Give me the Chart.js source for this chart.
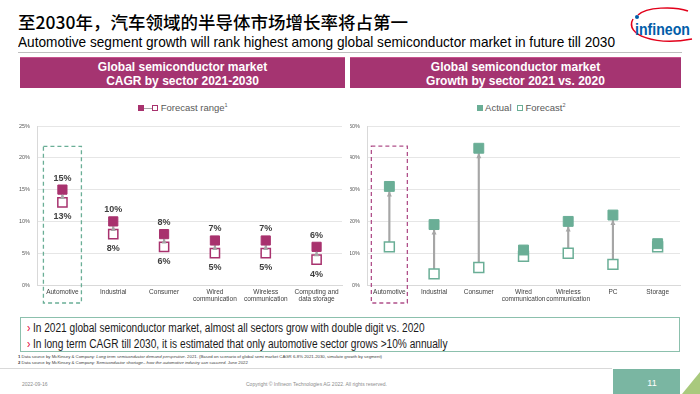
<!DOCTYPE html>
<html lang="zh">
<head>
<meta charset="UTF-8">
<title>Semiconductor growth by sector</title>
<script src="https://cdn.jsdelivr.net/npm/chart.js@4.4.0/dist/chart.umd.min.js"></script>
<style>
  body { margin: 0; width: 700px; height: 394px; overflow: hidden; background: #fff; position: relative; font-family: "Liberation Sans", Arial, sans-serif; }
  .abs { position: absolute; }
  #title { left: 18px; top: 12px; font-family: "Noto Sans CJK SC", sans-serif; font-size: 17.5px; font-weight: 500; color: #000; line-height: 20px; }
  #subtitle { left: 18px; top: 34px; font-size: 14.5px; color: #000; line-height: 16px; white-space: nowrap; transform: scaleX(0.94); transform-origin: 0 0; }
  #greyline { left: 18px; top: 52px; width: 664px; height: 1px; background: #bfbfbf; }
  .hdr { top: 57px; height: 31px; background: #a53471; color: #fff; font-weight: bold; font-size: 12px; line-height: 14px; text-align: center; padding-top: 2px; box-sizing: border-box; border-top: 1px solid #c8558e; }
  .legend { top: 102px; font-size: 9.5px; color: #595959; white-space: nowrap; }
  .sq { display: inline-block; width: 6px; height: 6px; box-sizing: border-box; }
  .legend sup { font-size: 5.5px; }
  canvas { position: absolute; }
  #box { left: 20px; top: 317px; width: 660px; height: 35px; border: 1px solid #8cc0ad; box-sizing: border-box; font-size: 12px; color: #1a1a1a; padding: 2px 0 0 6px; line-height: 16px; }
  #box div { white-space: nowrap; transform: scaleX(0.845); transform-origin: 0 0; }
  #box b { color: #e30034; font-weight: normal; margin-right: 3px; }
  .fn { left: 18px; font-size: 4.3px; color: #404040; white-space: nowrap; }
  #footline { left: 0; top: 368px; width: 612px; height: 1px; background: #d9d9d9; }
  .foot { top: 381px; font-size: 5px; color: #8c8c8c; }
</style>
</head>
<body>
<div id="title" class="abs">至2030年，汽车领域的半导体市场增长率将占第一</div>
<div id="subtitle" class="abs">Automotive segment growth will rank highest among global semiconductor market in future till 2030</div>
<div id="greyline" class="abs"></div>
<svg class="abs" style="left:624px;top:4px" width="72" height="44" viewBox="0 0 72 44">
  <path d="M14 11 C 22 3, 50 2, 64 7" stroke="#e2001a" stroke-width="1.5" fill="none"/>
  <path d="M9 15 C 0 31, 32 42, 68 35" stroke="#e2001a" stroke-width="1.5" fill="none"/>
  <circle cx="13" cy="13" r="2" fill="#005da9"/>
  <text x="11" y="31" font-family="Liberation Sans, sans-serif" font-weight="bold" font-size="17" fill="#005da9" textLength="55" lengthAdjust="spacingAndGlyphs">infineon</text>
</svg>

<div class="abs hdr" style="left:20px;width:325px">Global semiconductor market<br>CAGR by sector 2021-2030</div>
<div class="abs hdr" style="left:350px;width:331px">Global semiconductor market<br>Growth by sector 2021 vs. 2020</div>

<div class="abs legend" style="left:138px">
  <span class="sq" style="background:#a8326e"></span><span style="display:inline-block;width:8px;height:1px;background:#a6a6a6;vertical-align:2px"></span><span class="sq" style="border:1.2px solid #a8326e"></span> Forecast range<sup>1</sup>
</div>
<div class="abs legend" style="left:477px">
  <span class="sq" style="background:#6aae96"></span> Actual&nbsp; <span class="sq" style="border:1.2px solid #6aae96"></span> Forecast<sup>2</sup>
</div>

<canvas id="cagr" style="left:0;top:110px" width="350" height="200"></canvas>
<canvas id="growth" style="left:350px;top:110px" width="350" height="200"></canvas>

<div id="box" class="abs"><div><b>›</b>In 2021 global semiconductor market, almost all sectors grow with double digit vs. 2020</div><div><b>›</b>In long term CAGR till 2030, it is estimated that only automotive sector grows &gt;10% annually</div></div>
<div class="abs fn" style="top:354px"><b>1</b> Data source by McKinsey &amp; Company: <i>Long term semiconductor demand perspective.</i> 2021. (Based on scenario of global semi market CAGR 6-8% 2021-2030, simulate growth by segment)</div>
<div class="abs fn" style="top:360px"><b>2</b> Data source by McKinsey &amp; Company: <i>Semiconductor shortage– how the automotive industry can succeed.</i> June 2022</div>
<div id="footline" class="abs"></div>
<div class="abs foot" style="left:22px">2022-09-16</div>
<div class="abs foot" style="left:246px">Copyright © Infineon Technologies AG 2022. All rights reserved.</div>
<svg class="abs" style="left:600px;top:369px" width="100" height="25">
  <polygon points="13,0 80,0 80,25 13,25" fill="#7ab6a2"/>
  <polygon points="82,25 100,3 100,25" fill="#a9c97d"/>
  <text x="52" y="17" font-family="Liberation Sans, sans-serif" font-size="9" fill="#fff" text-anchor="middle">11</text>
</svg>

<script>
  // left chart: CAGR 2021-2030
  const cagrSectors = ['Automotive', 'Industrial', 'Consumer', ['Wired', 'communication'], ['Wireless', 'communication'], ['Computing and', 'data storage']];
  const cagrHigh = [15, 10, 8, 7, 7, 6];
  const cagrLow = [13, 8, 6, 5, 5, 4];
  const cagrTicks = [0, 5, 10, 15, 20, 25];

  // right chart: growth 2021 vs 2020
  const growthSectors = ['Automotive', 'Industrial', 'Consumer', ['Wired', 'communication'], ['Wireless', 'communication'], 'PC', 'Storage'];
  const growthActual = [31, 19, 43, 11, 20, 22, 13];
  const growthForecast = [12, 3.5, 5.5, 9, 10, 6.5, 12];
  const growthTicks = [0, 10, 20, 30, 40, 50];

  const magenta = '#a8326e';
  const teal = '#6aae96';
  const connector = '#a6a6a6';

  function axes(ticks, yWidth) {
    return {
      x: {
        offset: true,
        grid: { display: false, drawTicks: false },
        border: { color: '#d9d9d9' },
        ticks: { font: { size: 6.5 }, color: '#404040', maxRotation: 0, autoSkip: false, padding: 3 },
        afterFit: s => { s.height = 25; }
      },
      y: {
        min: ticks[0], max: ticks[ticks.length - 1],
        afterBuildTicks: s => { s.ticks = ticks.map(v => ({ value: v })); },
        grid: { color: '#e6e6e6', drawTicks: false },
        border: { color: '#d9d9d9' },
        ticks: { font: { size: 5.5 }, color: '#595959', padding: 7, callback: v => v + '%' },
        afterFit: s => { s.width = yWidth; }
      }
    };
  }

  // arrowheads, value labels and the dashed highlight box
  const extras = {
    id: 'extras',
    afterDatasetsDraw(chart, args, opts) {
      const { ctx, scales: { x, y }, chartArea } = chart;
      ctx.save();
      // arrowheads pointing at the upper value
      opts.high.forEach((v, i) => {
        const px = x.getPixelForValue(i);
        const tip = y.getPixelForValue(v) + opts.half;
        if (y.getPixelForValue(opts.low[i]) - tip < 6) return;
        ctx.fillStyle = connector;
        ctx.beginPath();
        ctx.moveTo(px, tip);
        ctx.lineTo(px - 2.5, tip + 5);
        ctx.lineTo(px + 2.5, tip + 5);
        ctx.closePath();
        ctx.fill();
      });
      // value labels
      if (opts.labels) {
        ctx.font = 'bold 9px "Liberation Sans", Arial, sans-serif';
        ctx.fillStyle = '#404040';
        ctx.textAlign = 'center';
        opts.high.forEach((v, i) => {
          const px = x.getPixelForValue(i);
          ctx.fillText(v + '%', px, y.getPixelForValue(v) - 9);
          ctx.fillText(opts.low[i] + '%', px, y.getPixelForValue(opts.low[i]) + 17);
        });
      }
      // dashed box around automotive
      const cx = x.getPixelForValue(0);
      ctx.strokeStyle = opts.boxColor;
      ctx.lineWidth = 1.3;
      ctx.setLineDash([4, 3]);
      ctx.strokeRect(cx - opts.boxHalf, y.getPixelForValue(opts.boxTop), opts.boxHalf * 2, chartArea.bottom + 18 - y.getPixelForValue(opts.boxTop));
      ctx.restore();
    }
  };

  function build(id, labels, high, low, ticks, color, yWidth, padRight, radius, extraOpts) {
    return new Chart(document.getElementById(id), {
      data: {
        labels: labels,
        datasets: [
          {
            type: 'line', data: high, showLine: false, order: 1,
            pointStyle: 'rect', pointRadius: radius, pointBackgroundColor: color, pointBorderColor: color, pointBorderWidth: 1
          },
          {
            type: 'line', data: low, showLine: false, order: 2,
            pointStyle: 'rect', pointRadius: radius, pointBackgroundColor: '#fff', pointBorderColor: color, pointBorderWidth: 1.5
          },
          {
            type: 'bar', data: high.map((v, i) => [low[i], v]), order: 3,
            backgroundColor: connector, barThickness: 1.5, grouped: false
          }
        ]
      },
      options: {
        responsive: false,
        animation: false,
        layout: { padding: { top: 16, right: padRight, left: 0, bottom: 0 } },
        plugins: { legend: { display: false }, tooltip: { enabled: false }, extras: Object.assign({ high: high, low: low }, extraOpts) },
        scales: axes(ticks, yWidth)
      },
      plugins: [extras]
    });
  }

  build('cagr', cagrSectors, cagrHigh, cagrLow, cagrTicks, magenta, 37, 2, 6.5,
    { half: 4.5, labels: true, boxColor: '#6aae96', boxHalf: 19, boxTop: 21.8 });
  build('growth', growthSectors, growthActual, growthForecast, growthTicks, teal, 17, 20, 7,
    { half: 5, labels: false, boxColor: '#b0508a', boxHalf: 18, boxTop: 43.7 });
</script>
</body>
</html>
